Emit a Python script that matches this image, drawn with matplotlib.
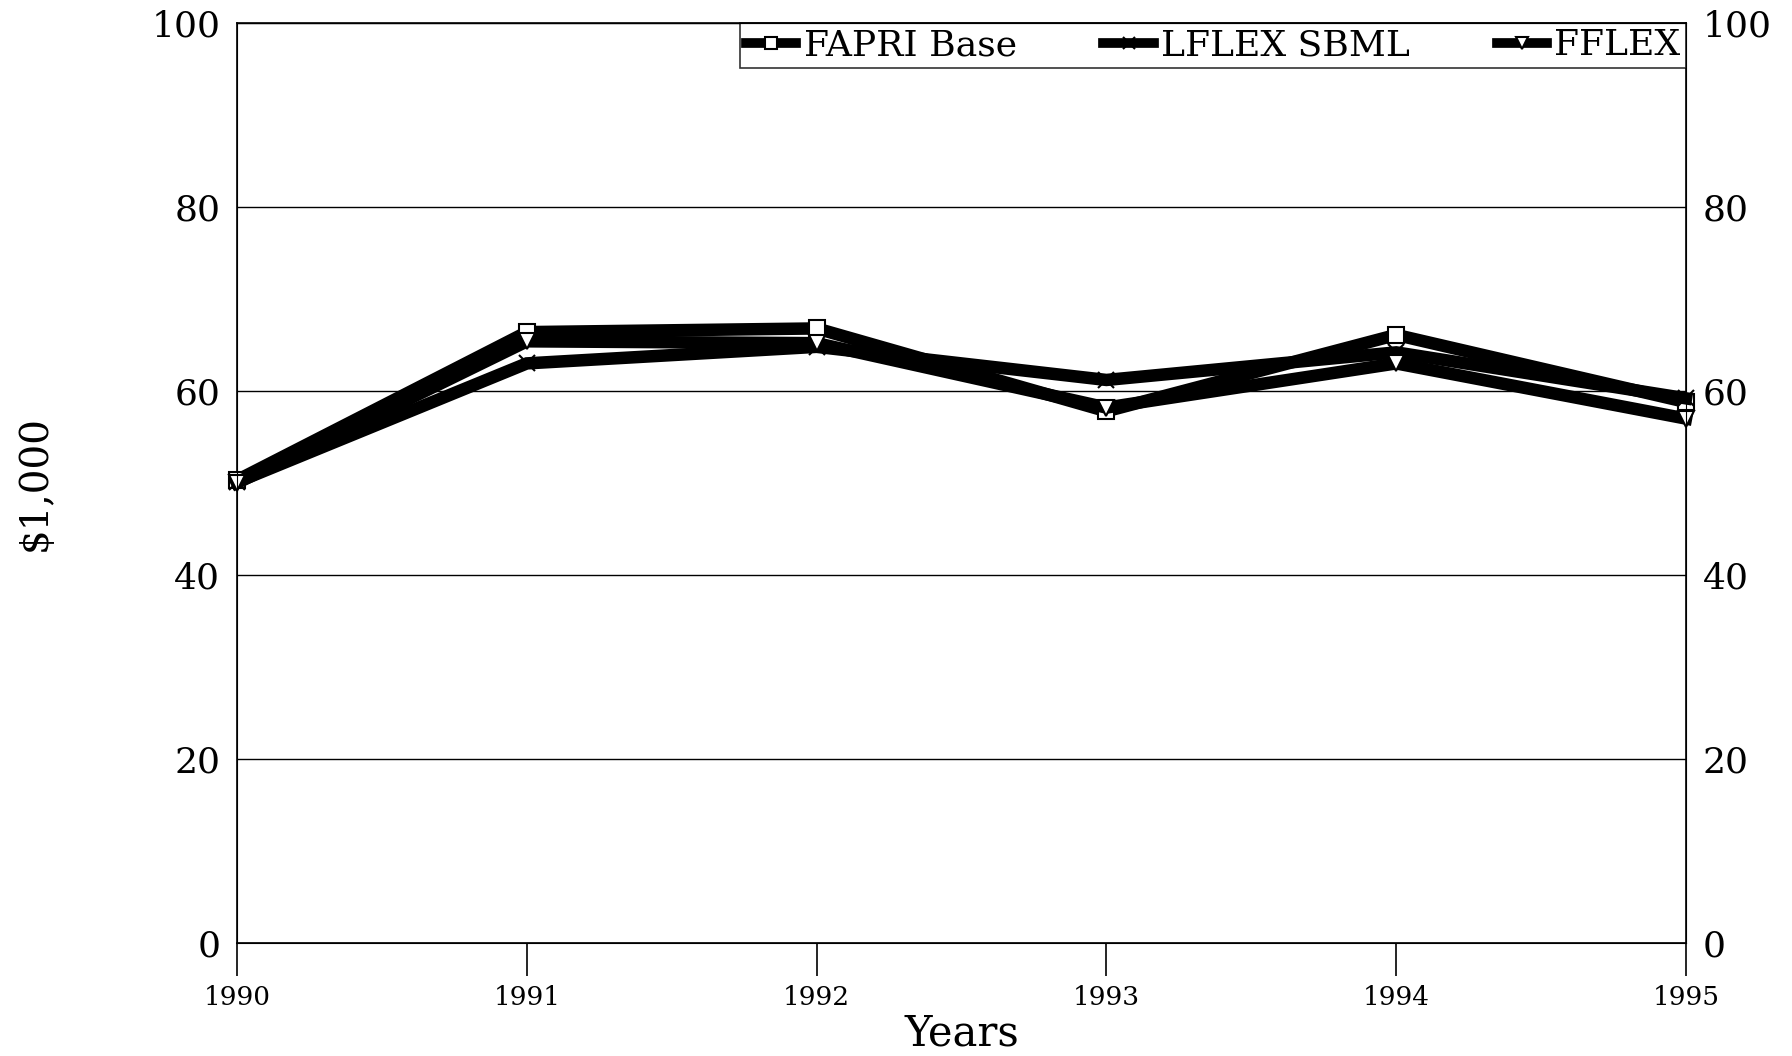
import matplotlib
matplotlib.use("Agg")
from matplotlib import pyplot as plt

years = [1990, 1991, 1992, 1993, 1994, 1995]
fapri_base = [50.3, 66.4, 66.8, 57.8, 66.1, 58.8]
lflex_sbml = [50.1, 63.0, 64.8, 61.2, 64.2, 59.2]
fflex = [50.0, 65.4, 65.2, 58.2, 63.0, 57.0]

plt.rcParams['font.family'] = ['DejaVu Serif']

fig = plt.figure(figsize=(17.92, 10.56), dpi=100)
ax = fig.add_axes([237 / 1792, 1 - 943 / 1056, (1686 - 237) / 1792, (943 - 23) / 1056])

series = [
    (fapri_base, 's', 'FAPRI Base'),
    (lflex_sbml, 'x', 'LFLEX SBML'),
    (fflex, 'v', 'FFLEX'),
]
for valores, marcador, nombre in series:
    ax.plot(years, valores, color='black', linewidth=9, marker=marcador,
            markersize=11, markerfacecolor='white', markeredgecolor='black',
            markeredgewidth=1.5, label=nombre, solid_joinstyle='miter',
            clip_on=False, zorder=3)

ax.set_xlim(1990, 1995)
ax.set_ylim(0, 100)
ax.set_yticks(range(0, 101, 20))
ax.set_xticks(years)
ax.tick_params(axis='y', length=0, labelsize=26, pad=12)
ax.tick_params(axis='x', length=24, width=1.2, direction='out', labelsize=19, pad=6)
ax.grid(axis='y', color='black', linewidth=1)
ax.set_axisbelow(True)

for lado in ['top', 'bottom', 'left', 'right']:
    ax.spines[lado].set_linewidth(1.2)

ax2 = ax.twinx()
ax2.set_ylim(0, 100)
ax2.set_yticks(range(0, 101, 20))
ax2.tick_params(axis='y', length=0, labelsize=26, pad=12)

ax.set_xlabel('Years', fontsize=30, labelpad=2)
ax.set_ylabel('$1,000', fontsize=28, labelpad=70)

leg = ax.legend(loc='upper right', ncol=3, fontsize=26, frameon=True, fancybox=False,
                edgecolor='black', borderaxespad=0, handlelength=1.4,
                columnspacing=2.4, handletextpad=0.2, borderpad=0.15,
                bbox_to_anchor=(1.0, 1.0))
leg.get_frame().set_linewidth(1.2)
leg.set_zorder(5)
for linea in leg.get_lines():
    linea.set_linewidth(7)
    linea.set_markersize(9)

fig.savefig('out.png', dpi=100, facecolor='white')
